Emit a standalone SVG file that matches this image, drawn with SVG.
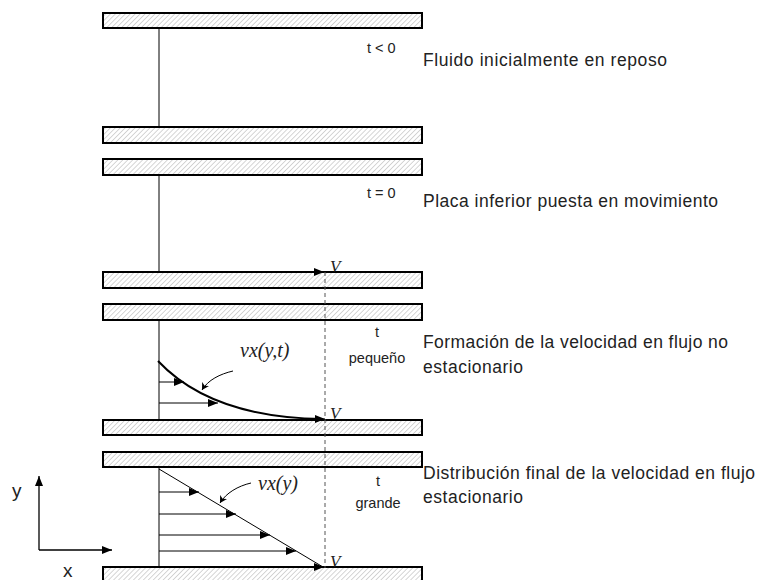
<svg xmlns="http://www.w3.org/2000/svg" width="762" height="580" viewBox="0 0 762 580">
<style>
.plate{fill:url(#hatch);stroke:#000;stroke-width:2}
.wall{stroke:#000;stroke-width:1;fill:none}
.prof{stroke:#000;stroke-width:1;fill:none;marker-end:url(#ah)}
.lbl{font-family:"Liberation Sans",Arial,sans-serif;font-size:17.5px;fill:#222}
.sm{font-family:"Liberation Sans",Arial,sans-serif;font-size:14.5px;fill:#222}
.it{font-family:"Liberation Serif","Times New Roman",serif;font-style:italic;fill:#222}
</style>
<defs>
<pattern id="hatch" width="3.5" height="3.5" patternUnits="userSpaceOnUse" patternTransform="rotate(45)">
<rect width="3.5" height="3.5" fill="#fff"/>
<line x1="0" y1="0" x2="0" y2="3.5" stroke="#c4c4c4" stroke-width="1.4"/>
</pattern>
<marker id="ah" markerWidth="10" markerHeight="8" refX="10" refY="4" orient="auto" markerUnits="userSpaceOnUse">
<path d="M0,0 L10,4 L0,8 Z" fill="#000"/>
</marker>
<marker id="lh" markerWidth="8" markerHeight="8" refX="7" refY="4" orient="auto" markerUnits="userSpaceOnUse">
<path d="M0,0 L7,4 L0,8 L2,4 Z" fill="#000"/>
</marker>
</defs>

<g id="stage1">
<rect class="plate" x="103" y="13" width="319" height="15"/>
<line class="wall" x1="159" y1="28" x2="159" y2="127"/>
<rect class="plate" x="103" y="127" width="319" height="16"/>
<text class="sm" x="367" y="53">t &lt; 0</text>
<text class="lbl" x="423" y="66" textLength="244">Fluido inicialmente  en reposo</text>
</g>

<g id="stage2">
<rect class="plate" x="103" y="159" width="319" height="16"/>
<line class="wall" x1="159" y1="175" x2="159" y2="272"/>
<rect class="plate" x="103" y="272" width="319" height="16"/>
<text class="sm" x="367" y="198">t = 0</text>
<text class="lbl" x="423" y="207" textLength="295">Placa inferior puesta en movimiento</text>
<text class="it" x="330" y="272" font-size="17">V</text>
</g>

<g id="stage3">
<rect class="plate" x="103" y="304" width="319" height="16"/>
<line class="wall" x1="159" y1="320" x2="159" y2="420"/>
<rect class="plate" x="103" y="420" width="319" height="15"/>
<text class="sm" x="377" y="337" text-anchor="middle">t</text>
<text class="sm" x="377" y="363" text-anchor="middle">pequeño</text>
<text class="lbl" x="423" y="348" textLength="305">Formación de la velocidad en flujo no</text>
<text class="lbl" x="423" y="373" textLength="100">estacionario</text>
<text class="it" x="240" y="357" font-size="20">vx(y,t)</text>
<text class="it" x="330" y="419" font-size="17">V</text>
</g>

<g id="stage4">
<rect class="plate" x="103" y="452" width="319" height="15"/>
<line class="wall" x1="159" y1="467" x2="159" y2="567"/>
<rect class="plate" x="103" y="567" width="319" height="16"/>
<text class="sm" x="378" y="486" text-anchor="middle">t</text>
<text class="sm" x="378" y="508" text-anchor="middle">grande</text>
<text class="lbl" x="423" y="479" textLength="332">Distribución final de la velocidad en flujo</text>
<text class="lbl" x="423" y="503" textLength="100">estacionario</text>
<text class="it" x="258" y="490" font-size="20">vx(y)</text>
<text class="it" x="330" y="567" font-size="17">V</text>
</g>

<g id="axes">
<line x1="39" y1="550" x2="39" y2="476" stroke="#000" stroke-width="1.3" marker-end="url(#ah)"/>
<line x1="39" y1="550" x2="112" y2="550" stroke="#000" stroke-width="1.3" marker-end="url(#ah)"/>
<text x="12" y="497" font-family="Liberation Sans,Arial,sans-serif" font-size="19" fill="#222">y</text>
<text x="63" y="577" font-family="Liberation Sans,Arial,sans-serif" font-size="19" fill="#222">x</text>
</g>

<g id="connectors">
<line x1="325" y1="272" x2="325" y2="568" stroke="#555" stroke-width="1" stroke-dasharray="4,3"/>
<line class="prof" x1="159" y1="272" x2="324" y2="272"/>
<path d="M158,361 C190,395 240,418 323,419" stroke="#000" stroke-width="2" fill="none"/>
<line class="prof" x1="323" y1="419" x2="325" y2="419"/>
<line class="prof" x1="159" y1="382" x2="184" y2="382"/>
<line class="prof" x1="159" y1="403" x2="218" y2="403"/>
<path d="M233,371 C220,374 208,380 202,390" class="wall" marker-end="url(#lh)"/>
<line x1="159" y1="469" x2="323" y2="567" stroke="#000" stroke-width="1"/>
<line class="prof" x1="159" y1="492" x2="199" y2="492"/>
<line class="prof" x1="159" y1="514" x2="236" y2="514"/>
<line class="prof" x1="159" y1="535" x2="270" y2="535"/>
<line class="prof" x1="159" y1="551" x2="296" y2="551"/>
<line class="prof" x1="159" y1="567" x2="324" y2="567"/>
<path d="M251,483 C238,486 226,493 220,503" class="wall" marker-end="url(#lh)"/>
</g>
</svg>
